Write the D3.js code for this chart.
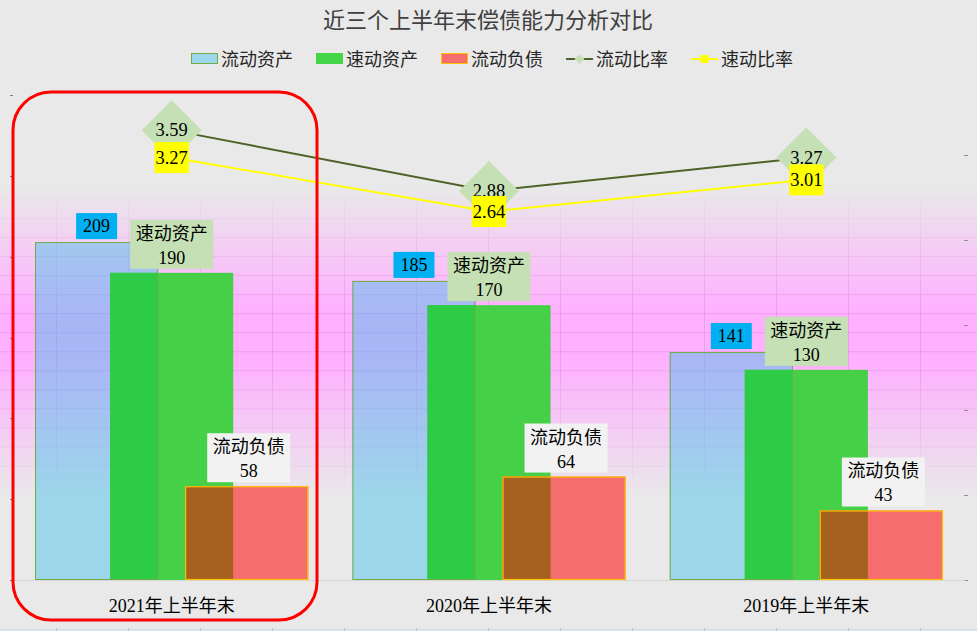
<!DOCTYPE html>
<html><head><meta charset="utf-8">
<script src="https://cdn.jsdelivr.net/npm/d3@7/dist/d3.min.js"></script>
<style>
html,body{margin:0;padding:0;background:#e9e9e9;}
svg{display:block;}
text{font-family:"Liberation Serif","Noto Sans CJK SC",serif;}
</style></head>
<body>
<svg id="chart" width="977" height="631"></svg>
<script>
const categories = ["2021年上半年末","2020年上半年末","2019年上半年末"];
const currentAssets = [209,185,141];
const quickAssets = [190,170,130];
const currentLiabilities = [58,64,43];
const currentRatio = [3.59,2.88,3.27];
const quickRatio = [3.27,2.64,3.01];
const seriesNames = ["流动资产","速动资产","流动负债","流动比率","速动比率"];
const leftTicks = [0,50,100,150,200,250,300];
const rightTicks = [0,1,2,3,4,5];
const title = "近三个上半年末偿债能力分析对比";

const W = 977, H = 631;
const svg = d3.select("#chart");
const plot = {left:13, right:965, top:95, bottom:580};

const x = d3.scaleBand().domain(categories).range([plot.left, plot.right]).padding(0);
const yL = d3.scaleLinear().domain([0,300]).range([plot.bottom, plot.top]);
const yR = d3.scaleLinear().domain([-1.66,4]).range([plot.bottom, plot.top]);
const yRt = d3.scaleLinear().domain([0,5]).range([plot.bottom, 155]);
const step = x.bandwidth();
const barW = step*0.388, off = step*0.2365;
const cx = c => x(c) + step/2;

const defs = svg.append("defs");
const g1 = defs.append("linearGradient").attr("id","pink").attr("gradientUnits","userSpaceOnUse")
  .attr("x1",0).attr("x2",0).attr("y1",188).attr("y2",497);
[[0,"#e9e9e9"],[0.40,"#ffb0ff"],[0.56,"#ffb0ff"],[1,"#e9e9e9"]].forEach(s=>g1.append("stop").attr("offset",s[0]).attr("stop-color",s[1]));
const g2 = defs.append("linearGradient").attr("id","pinkMask").attr("gradientUnits","userSpaceOnUse")
  .attr("x1",0).attr("x2",0).attr("y1",188).attr("y2",497);
[[0,"#000"],[0.40,"#fff"],[0.56,"#fff"],[1,"#000"]].forEach(s=>g2.append("stop").attr("offset",s[0]).attr("stop-color",s[1]));
defs.append("mask").attr("id","gm").append("rect").attr("x",0).attr("y",0).attr("width",W).attr("height",H).attr("fill","url(#pinkMask)");

// background
svg.append("rect").attr("width",W).attr("height",H).attr("fill","#e9e9e9");
svg.append("rect").attr("x",0).attr("y",188).attr("width",W).attr("height",309).attr("fill","url(#pink)");

// spreadsheet-like grid behind
const grid = svg.append("g").attr("mask","url(#gm)").attr("stroke","#d985d9").attr("stroke-opacity",0.45).attr("stroke-width",1);
d3.range(56.5, W, 72).forEach(v=>grid.append("line").attr("x1",v).attr("x2",v).attr("y1",180).attr("y2",505));
d3.range(199.5, 505, 19.03).forEach(v=>grid.append("line").attr("x1",0).attr("x2",W).attr("y1",v).attr("y2",v));

// title
svg.append("text").attr("x",488).attr("y",28).attr("text-anchor","middle").attr("font-size",22).attr("fill","#404040").text(title);

// axes tick marks
svg.append("g").selectAll("line").data(leftTicks).join("line")
  .attr("x1",10).attr("x2",13).attr("y1",d=>Math.round(yL(d))+0.5).attr("y2",d=>Math.round(yL(d))+0.5).attr("stroke","#7f7f7f");
svg.append("g").selectAll("line").data(rightTicks).join("line")
  .attr("x1",964).attr("x2",968).attr("y1",d=>Math.round(yRt(d))+0.5).attr("y2",d=>Math.round(yRt(d))+0.5).attr("stroke","#8f8f8f");
svg.append("line").attr("x1",plot.left).attr("x2",plot.right).attr("y1",plot.bottom+0.5).attr("y2",plot.bottom+0.5).attr("stroke","#d6d6d6");

// bars
const bars = svg.append("g");
categories.forEach((c,i)=>{
  const xb = cx(c)-off-barW/2, xg = cx(c)-barW/2, xr = cx(c)+off-barW/2;
  const yb = yL(currentAssets[i]), yg = yL(quickAssets[i]), yr = yL(currentLiabilities[i]);
  bars.append("rect").attr("x",xb).attr("y",yb).attr("width",barW).attr("height",plot.bottom-yb).attr("fill","rgb(64,191,236)").attr("fill-opacity",0.45);
  bars.append("rect").attr("x",xg).attr("y",yg).attr("width",barW).attr("height",plot.bottom-yg).attr("fill","#46d048");
  bars.append("rect").attr("x",xg).attr("y",Math.max(yg,yb)).attr("width",xb+barW-xg).attr("height",plot.bottom-Math.max(yg,yb)).attr("fill","#2dcb46");
  bars.append("rect").attr("x",xb+0.5).attr("y",yb+0.5).attr("width",barW-1).attr("height",plot.bottom-yb-1).attr("fill","none").attr("stroke","#70ad47").attr("stroke-width",1);
  bars.append("rect").attr("x",xr).attr("y",yr).attr("width",barW).attr("height",plot.bottom-yr).attr("fill","#f66d6d");
  bars.append("rect").attr("x",xr).attr("y",Math.max(yr,yg)).attr("width",xg+barW-xr).attr("height",plot.bottom-Math.max(yr,yg)).attr("fill","#a66020");
  bars.append("rect").attr("x",xr+0.5).attr("y",yr+0.5).attr("width",barW-1).attr("height",plot.bottom-yr-1).attr("fill","none").attr("stroke","#ffc000").attr("stroke-width",1.2);
});

// category labels
svg.append("g").selectAll("text").data(categories).join("text")
  .attr("x",d=>cx(d)).attr("y",612).attr("text-anchor","middle").attr("font-size",18).attr("fill","#000").text(d=>d);

// bar labels
const lab = svg.append("g");
categories.forEach((c,i)=>{
  const bx = cx(c)-off, by = yL(currentAssets[i]);
  const t = lab.append("text").attr("x",bx).attr("y",by-3-7).attr("text-anchor","middle").attr("font-size",18).text(currentAssets[i]);
  const tw = t.node().getComputedTextLength();
  lab.insert("rect","text").attr("x",bx-tw/2-7).attr("y",by-3-26).attr("width",tw+14).attr("height",26).attr("fill","#00b0f0");
  [[quickAssets[i], cx(c), "#c5e0b4", seriesNames[1], 4],[currentLiabilities[i], cx(c)+off+2, "#f2f2f2", seriesNames[2], 4]].forEach(([v,px,col,name,gap])=>{
    const yy = yL(v) - gap - 49;
    const gg = lab.append("g");
    const r = gg.append("rect").attr("fill",col);
    const t1 = gg.append("text").attr("x",px).attr("y",yy+20).attr("text-anchor","middle").attr("font-size",18).text(name);
    const t2 = gg.append("text").attr("x",px).attr("y",yy+44).attr("text-anchor","middle").attr("font-size",18).text(v);
    const w = Math.max(t1.node().getComputedTextLength(), t2.node().getComputedTextLength()) + 11;
    r.attr("x",px-w/2).attr("y",yy).attr("width",w).attr("height",49);
  });
});

// lines
const line = d3.line().x(d=>d[0]).y(d=>d[1]);
const ptsC = categories.map((c,i)=>[cx(c), yR(currentRatio[i])]);
const ptsQ = categories.map((c,i)=>[cx(c), yR(quickRatio[i])]);
svg.append("path").attr("d",line(ptsC)).attr("fill","none").attr("stroke","#4f6228").attr("stroke-width",2);
svg.append("path").attr("d",line(ptsQ)).attr("fill","none").attr("stroke","#ffff00").attr("stroke-width",2);

// line labels
const ll = svg.append("g");
ptsC.forEach((p,i)=>{
  const s = 30;
  ll.append("path").attr("d",`M${p[0]},${p[1]-s}L${p[0]+s},${p[1]}L${p[0]},${p[1]+s}L${p[0]-s},${p[1]}Z`).attr("fill","#c5e0b4");
  ll.append("text").attr("x",p[0]).attr("y",p[1]+6).attr("text-anchor","middle").attr("font-size",18.5).text(currentRatio[i].toFixed(2));
});
ptsQ.forEach((p,i)=>{
  const r = ll.append("rect").attr("fill","#ffff00");
  const t = ll.append("text").attr("x",p[0]).attr("y",p[1]+6).attr("text-anchor","middle").attr("font-size",18.5).text(quickRatio[i].toFixed(2));
  const w = t.node().getComputedTextLength()+2;
  r.attr("x",p[0]-w/2).attr("y",p[1]-15.5).attr("width",w).attr("height",31);
});

// legend
const leg = svg.append("g");
let lx = 191;
const ly = 59;
seriesNames.forEach((name,i)=>{
  if(i===0) leg.append("rect").attr("x",lx+0.5).attr("y",ly-5.5).attr("width",26).attr("height",10).attr("fill","#9dd7eb").attr("stroke","#70ad47");
  if(i===1) leg.append("rect").attr("x",lx).attr("y",ly-6).attr("width",27).attr("height",11).attr("fill","#45d548");
  if(i===2) leg.append("rect").attr("x",lx+0.5).attr("y",ly-5.5).attr("width",26).attr("height",10).attr("fill","#f66d6d").attr("stroke","#ffc000");
  if(i===3){
    leg.append("line").attr("x1",lx).attr("x2",lx+27).attr("y1",ly).attr("y2",ly).attr("stroke","#4f6228").attr("stroke-width",2);
    leg.append("path").attr("d",`M${lx+13.5},${ly-5}L${lx+18.5},${ly}L${lx+13.5},${ly+5}L${lx+8.5},${ly}Z`).attr("fill","#c5e0b4");
  }
  if(i===4){
    leg.append("line").attr("x1",lx).attr("x2",lx+27).attr("y1",ly).attr("y2",ly).attr("stroke","#ffff00").attr("stroke-width",2);
    leg.append("rect").attr("x",lx+9.5).attr("y",ly-4).attr("width",8).attr("height",8).attr("fill","#ffff00");
  }
  const t = leg.append("text").attr("x",lx+30).attr("y",ly+7).attr("font-size",18).attr("fill","#262626").text(name);
  lx += 30 + t.node().getComputedTextLength() + 23;
});

// bottom sheet border strip
svg.append("line").attr("x1",0).attr("x2",W).attr("y1",629.5).attr("y2",629.5).attr("stroke","#c9d9ef");
d3.range(56.5, W, 72).forEach(v=>svg.append("line").attr("x1",v).attr("x2",v).attr("y1",628).attr("y2",631).attr("stroke","#c0c8d4"));

// red highlight
svg.append("rect").attr("x",13).attr("y",92).attr("width",304).attr("height",528).attr("rx",38).attr("ry",38)
  .attr("fill","none").attr("stroke","#ff0000").attr("stroke-width",3);
</script>
</body></html>
